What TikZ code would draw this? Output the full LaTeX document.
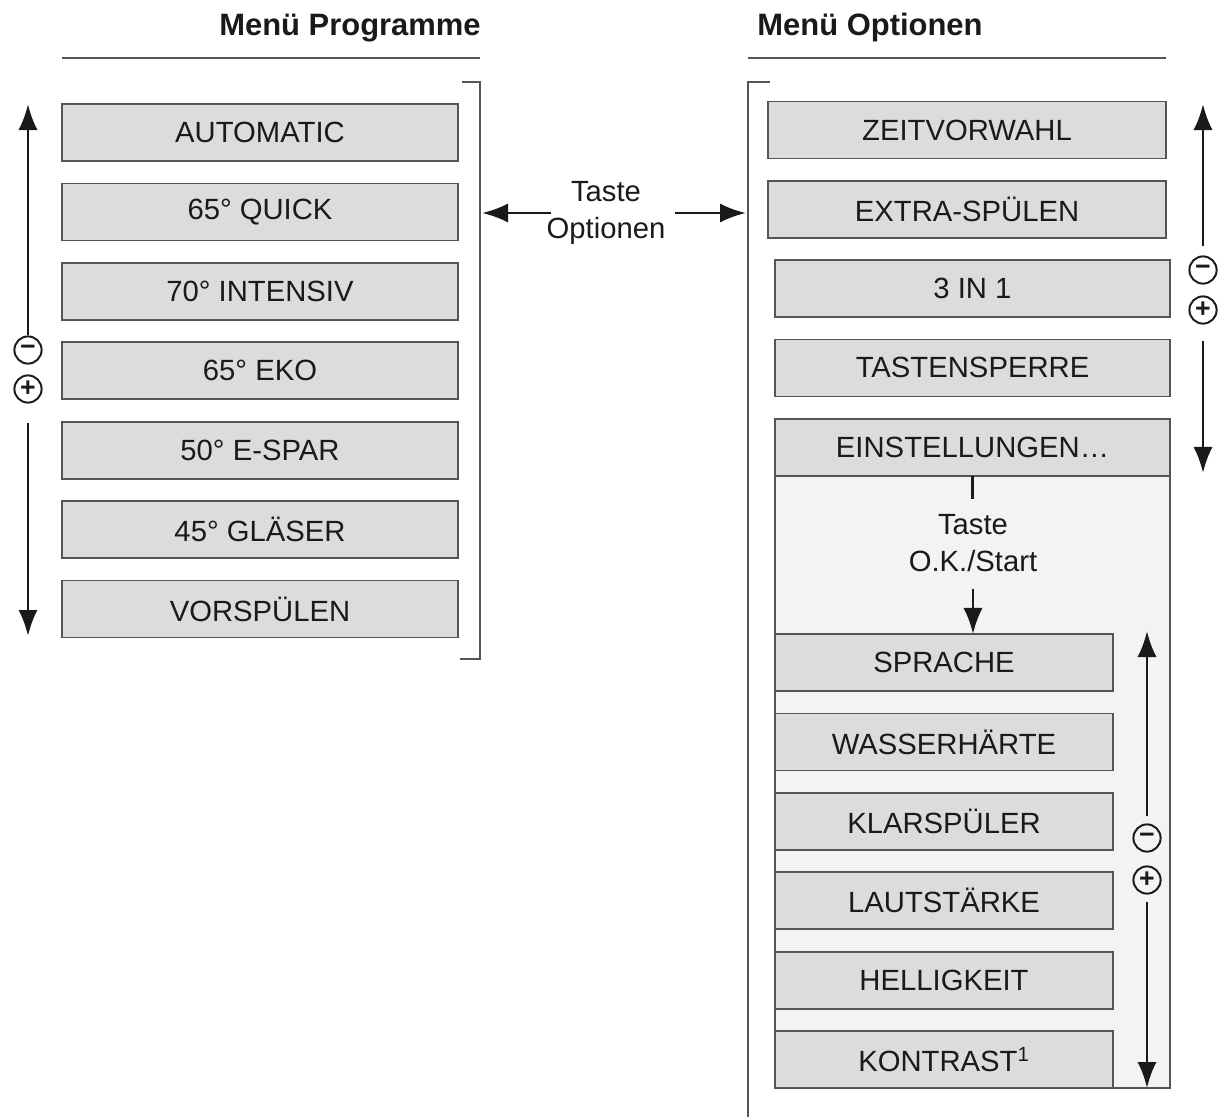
\documentclass[tikz,border=0pt]{standalone}
\usepackage{fontspec}
\setmainfont{Liberation Sans}
\usepackage{xcolor}
\usepackage{tikz}
\usetikzlibrary{arrows.meta,positioning,backgrounds}
\definecolor{ink}{HTML}{1A1A1A}
\definecolor{frame}{HTML}{555555}
\definecolor{boxfill}{HTML}{DCDCDC}
\definecolor{panelfill}{HTML}{F3F3F3}
\newcommand{\boxfont}{\fontsize{20.8}{26}\selectfont}
\tikzset{menubox/.style={draw=frame,line width=1.3pt,fill=boxfill,outer sep=0pt,
  minimum width=9.9cm,minimum height=1.425cm,inner sep=0pt,font=\boxfont,text=ink},
  subbox/.style={menubox,minimum width=8.45cm},
  panel/.style={draw=frame,line width=1.3pt,fill=panelfill},
  heading/.style={font=\fontsize{22}{26}\selectfont\bfseries,text=ink,inner sep=0pt},
  label/.style={font=\boxfont,text=ink,align=center,inner sep=0pt},
  pm/.style={circle,draw=ink,line width=1.4pt,minimum size=0.68cm,inner sep=0pt,
  font=\fontsize{19}{19}\selectfont\bfseries,text=ink},
  rule/.style={draw=frame,line width=1pt},
  bracket/.style={draw=frame,line width=1.2pt},
  arrow/.style={-{Latex[length=6.5mm,width=4.8mm]},line width=2pt,draw=ink},
  conn/.style={line width=2pt,draw=ink}}

\begin{document}
\begin{tikzpicture}[x=0.025cm,y=-0.025cm,node distance=5.6mm]
\useasboundingbox (0,0) rectangle (1228,1117);
% headings
\node[heading] (hprog) at (350,28) {Menü Programme};
\node[heading] (hopt) at (870,28) {Menü Optionen};
\draw[rule] (62,58) -- (480,58);
\draw[rule] (748,58) -- (1166,58);
% Menue Programme
\node[menubox] (auto) at (260,132.5) {AUTOMATIC};
\node[menubox,below=of auto] (quick) {65° QUICK};
\node[menubox,below=of quick] (intensiv) {70° INTENSIV};
\node[menubox,below=of intensiv] (eko) {65° EKO};
\node[menubox,below=of eko] (espar) {50° E-SPAR};
\node[menubox,below=of espar] (glaeser) {45° GLÄSER};
\node[menubox,below=of glaeser] (vorspuelen) {VORSPÜLEN};
\draw[bracket] (462,82) -- (480,82) -- (480,659) -- (460,659);
\draw[bracket] (770,82) -- (748,82) -- (748,1117);
% Menue Optionen
\node[menubox,minimum width=9.95cm] (zeit) at (967,130) {ZEITVORWAHL};
\node[menubox,minimum width=9.95cm,below=of zeit] (extra) {EXTRA-SPÜLEN};
\node[menubox,minimum width=9.875cm] (dreiin) at (972.5,288.5) {3 IN 1};
\node[menubox,minimum width=9.875cm,below=of dreiin] (tasten) {TASTENSPERRE};
\node[menubox,minimum width=9.875cm,below=of tasten] (einst) {EINSTELLUNGEN…};
\node[subbox] (sprache) at (944,662.5) {SPRACHE};
\node[subbox,below=of sprache] (wasser) {WASSERHÄRTE};
\node[subbox,below=of wasser] (klar) {KLARSPÜLER};
\node[subbox,below=of klar] (laut) {LAUTSTÄRKE};
\node[subbox,below=of laut] (hell) {HELLIGKEIT};
\node[subbox,below=of hell] (kontrast) {KONTRAST\textsuperscript{1}};
\begin{scope}[on background layer]
\draw[panel] (einst.north west) rectangle (kontrast.south -| einst.east);
\end{scope}
% Taste Optionen
\node[label] (taste) at (606,213) {Taste\\Optionen};
\coordinate (lbr) at (482,212);
\coordinate (rbr) at (746,212);
\draw[arrow,shorten <=-3pt] (taste.west) -- (taste.west -| lbr);
\draw[arrow,shorten <=7pt] (taste.east) -- (taste.east -| rbr);
% Taste O.K./Start
\node[label] (ok) at (973,543) {Taste\\O.K./Start};
\draw[conn,shorten >=11pt] (einst.south) -- (ok.north -| einst.south);
\draw[arrow,shorten <=12pt] (ok.south) -- (ok.south |- sprache.north);
% minus / plus
\node[pm] (lminus) at (28,350) {−};
\node[pm] (lplus) at (28,389) {+};
\coordinate (lup) at (28,104);
\coordinate (ldown) at (28,636);
\draw[arrow] (lminus.north) -- (lup);
\draw[arrow,shorten <=14pt] (lplus.south) -- (ldown);
\node[pm] (tminus) at (1203,270) {−};
\node[pm] (tplus) at (1203,310) {+};
\coordinate (tup) at (1203,104);
\coordinate (tdown) at (1203,473);
\draw[arrow,shorten <=7pt] (tminus.north) -- (tup);
\draw[arrow,shorten <=12pt] (tplus.south) -- (tdown);
\node[pm] (bminus) at (1147,838) {−};
\node[pm] (bplus) at (1147,880) {+};
\coordinate (bup) at (1147,631);
\coordinate (bdown) at (1147,1088);
\draw[arrow,shorten <=5pt] (bminus.north) -- (bup);
\draw[arrow,shorten <=5pt] (bplus.south) -- (bdown);
\end{tikzpicture}
\end{document}
